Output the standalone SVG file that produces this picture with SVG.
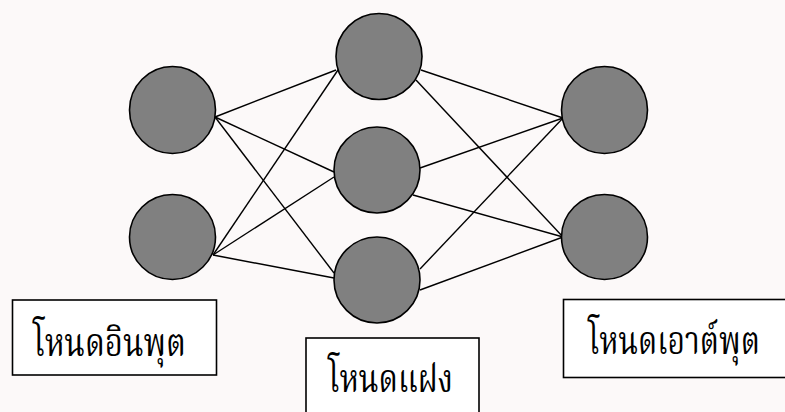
<svg xmlns="http://www.w3.org/2000/svg" width="785" height="412" viewBox="0 0 785 412">
  <style>
    .node { fill: #808080; stroke: #000; stroke-width: 1.6; }
    .edge { stroke: #000; stroke-width: 1.4; fill: none; }
    .box { fill: #fff; stroke: #000; stroke-width: 1.6; }
    .label { font-family: "Norasi", "Kinnari", "Noto Serif Thai", "Noto Sans Thai", "Loma", "Garuda", "DejaVu Sans", "Liberation Serif", serif; font-size: 39px; fill: #000; }
  </style>
  <rect width="785" height="412" fill="#fcf9f9"/>

  <!-- connectors: input layer to hidden layer, hidden layer to output layer -->
  <g id="connectors">
    <line class="edge" x1="215" y1="117" x2="336" y2="70"/>
    <line class="edge" x1="215" y1="117" x2="334" y2="172"/>
    <line class="edge" x1="215" y1="117" x2="334" y2="273"/>
    <line class="edge" x1="213" y1="255" x2="340" y2="67"/>
    <line class="edge" x1="213" y1="255" x2="334" y2="177"/>
    <line class="edge" x1="213" y1="255" x2="334" y2="278"/>
    <line class="edge" x1="421" y1="70" x2="563" y2="118"/>
    <line class="edge" x1="416" y1="80" x2="563" y2="237"/>
    <line class="edge" x1="420" y1="168" x2="563" y2="118"/>
    <line class="edge" x1="413" y1="195" x2="563" y2="237"/>
    <line class="edge" x1="420" y1="269" x2="563" y2="118"/>
    <line class="edge" x1="420" y1="290" x2="563" y2="237"/>
  </g>

  <!-- input layer -->
  <g id="input-1"><ellipse class="node" cx="172.5" cy="110" rx="43" ry="43.5"/></g>
  <g id="input-2"><ellipse class="node" cx="172.5" cy="237" rx="43" ry="42.5"/></g>

  <!-- hidden layer -->
  <g id="hidden-1"><ellipse class="node" cx="379" cy="56.5" rx="43" ry="43"/></g>
  <g id="hidden-2"><ellipse class="node" cx="377" cy="170" rx="43" ry="43"/></g>
  <g id="hidden-3"><ellipse class="node" cx="377" cy="280" rx="43" ry="43"/></g>

  <!-- output layer -->
  <g id="output-1"><ellipse class="node" cx="604.5" cy="110" rx="43" ry="43.5"/></g>
  <g id="output-2"><ellipse class="node" cx="604.5" cy="237" rx="43" ry="42.5"/></g>

  <!-- layer captions -->
  <g id="label-input">
    <rect class="box" x="12.5" y="300" width="204" height="75"/>
    <text class="label" x="33" y="356" textLength="153" lengthAdjust="spacingAndGlyphs">โหนดอินพุต</text>
  </g>
  <g id="label-hidden">
    <rect class="box" x="306" y="338" width="173" height="80"/>
    <text class="label" x="328" y="392" textLength="125" lengthAdjust="spacingAndGlyphs">โหนดแฝง</text>
  </g>
  <g id="label-output">
    <rect class="box" x="563.5" y="299.5" width="230" height="78"/>
    <text class="label" x="588" y="354" textLength="172" lengthAdjust="spacingAndGlyphs">โหนดเอาต์พุต</text>
  </g>
</svg>
